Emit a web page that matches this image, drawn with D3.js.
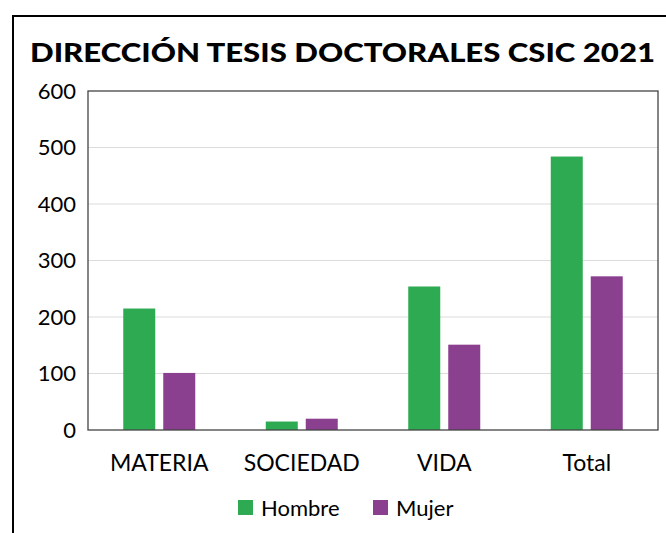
<!DOCTYPE html>
<html lang="es">
<head>
<meta charset="UTF-8">
<title>Dirección tesis doctorales CSIC 2021</title>
<script src="https://d3js.org/d3.v7.min.js"></script>
<style>
  body { margin: 0; padding: 0; background: #fff; }
  svg { display: block; font-family: Lato, "Open Sans", sans-serif; }
</style>
</head>
<body>
<svg id="chart" width="666" height="533"></svg>
<script>
const categories = ["MATERIA", "SOCIEDAD", "VIDA", "Total"];
const seriesNames = ["Hombre", "Mujer"];
const hombre = [215, 15, 254, 484];
const mujer = [101, 20, 151, 272];
const yTicks = [0, 100, 200, 300, 400, 500, 600];
const colors = ["#2eaa52", "#8a3f8f"];

const svg = d3.select("#chart");
const margin = {top: 91, right: 8, bottom: 103, left: 88},
      width = 666 - margin.left - margin.right,
      height = 533 - margin.top - margin.bottom;

// outer frame
svg.append("rect")
  .attr("x", 13).attr("y", 16)
  .attr("width", 700).attr("height", 600)
  .attr("fill", "none").attr("stroke", "#000").attr("stroke-width", 2);

svg.append("text")
  .attr("x", 30).attr("y", 62)
  .attr("textLength", 625).attr("lengthAdjust", "spacingAndGlyphs")
  .style("font-size", "27px").style("font-weight", "900")
  .text("DIRECCIÓN TESIS DOCTORALES CSIC 2021");

const g = svg.append("g").attr("transform", `translate(${margin.left},${margin.top})`);

const x0 = d3.scaleBand().domain(categories).range([0, width]).paddingInner(0).paddingOuter(0);
const x1 = d3.scaleBand().domain(seriesNames).range([0, 72]).paddingInner(0.2);
const y = d3.scaleLinear().domain([0, 600]).range([height, 0]);

// gridlines
g.selectAll(".grid").data(yTicks.slice(1, -1)).enter().append("line")
  .attr("x1", 0).attr("x2", width)
  .attr("y1", d => y(d)).attr("y2", d => y(d))
  .attr("stroke", "#dcdcdc").attr("stroke-width", 1.2);

const data = categories.map((c, i) => ({cat: c, values: [hombre[i], mujer[i]]}));
const groups = g.selectAll(".grp").data(data).enter().append("g")
  .attr("transform", d => `translate(${x0(d.cat) + (x0.bandwidth() - 72) / 2},0)`);

groups.selectAll("rect").data(d => d.values.map((v, j) => ({s: seriesNames[j], v, j})))
  .enter().append("rect")
  .attr("x", d => x1(d.s))
  .attr("width", x1.bandwidth())
  .attr("y", d => y(d.v))
  .attr("height", d => height - y(d.v))
  .attr("fill", d => colors[d.j]);

// plot border
g.append("rect")
  .attr("x", 0).attr("y", 0).attr("width", width).attr("height", height)
  .attr("fill", "none").attr("stroke", "#444").attr("stroke-width", 1.3);

// y axis labels
const yAxis = g.append("g").call(d3.axisLeft(y).tickValues(yTicks).tickSize(0).tickPadding(12));
yAxis.select(".domain").remove();
yAxis.selectAll("text").style("font-size", "22px").style("font-family", "Lato, sans-serif").attr("fill", "#000");

// x axis labels
const xAxis = g.append("g").attr("transform", `translate(0,${height})`)
  .call(d3.axisBottom(x0).tickSize(0).tickPadding(25));
xAxis.select(".domain").remove();
xAxis.selectAll("text").style("font-size", "23px").style("font-family", "Lato, sans-serif").attr("fill", "#000");

// legend
const legendX = [238, 373];
const legend = svg.selectAll(".leg").data(seriesNames).enter().append("g")
  .attr("transform", (d, i) => `translate(${legendX[i]},500)`);
legend.append("rect").attr("width", 15).attr("height", 15).attr("fill", (d, i) => colors[i]);
legend.append("text").attr("x", 23).attr("y", 16)
  .style("font-size", "22px").text(d => d);
</script>
</body>
</html>
